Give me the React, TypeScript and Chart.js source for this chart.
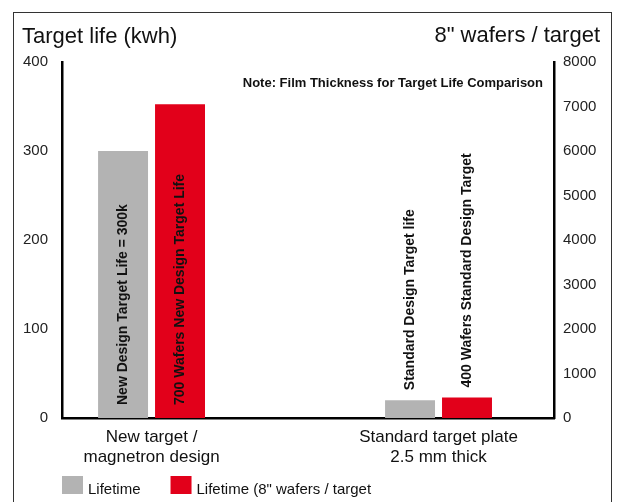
import React, { useEffect, useRef } from "react";
import { Chart, registerables } from "chart.js";

Chart.register(...registerables);

// ---- data ----
const categories: string[][] = [
  ["New target /", "magnetron design"],
  ["Standard target plate", "2.5 mm thick"],
];
const lifetimeKwh = [300, 20];
const wafersPerTarget = [7050, 460];
const lifetimeNotes = ["New Design Target Life = 300k", "Standard Design Target life"];
const wafersNotes = ["700 Wafers New Design Target Life", "400 Wafers Standard Design Target"];
const seriesNames = ["Lifetime", 'Lifetime (8" wafers / target'];
const leftTitle = "Target life (kwh)";
const rightTitle = '8" wafers / target';
const noteText = "Note: Film Thickness for Target Life Comparison";
const leftTicks = [0, 100, 200, 300, 400];
const rightTicks = [0, 1000, 2000, 3000, 4000, 5000, 6000, 7000, 8000];

const FONT = "'Liberation Sans', Arial, sans-serif";
const GRAY = "#b3b3b3";
const RED = "#e2001a";
const INK = "#111111";

const decor = {
  id: "decor",
  afterDraw(chart: any) {
    const ctx = chart.ctx as CanvasRenderingContext2D;
    const { left, right } = chart.chartArea;
    ctx.save();
    // frame
    ctx.strokeStyle = "#333";
    ctx.lineWidth = 1;
    ctx.strokeRect(13.5, 12.5, 598, 600);
    // titles
    ctx.fillStyle = INK;
    ctx.font = `22px ${FONT}`;
    ctx.textBaseline = "alphabetic";
    ctx.textAlign = "left";
    ctx.fillText(leftTitle, 22, 43);
    ctx.textAlign = "right";
    ctx.fillText(rightTitle, 600, 42);
    // note
    ctx.font = `bold 13px ${FONT}`;
    ctx.fillText(noteText, right - 11, 87);
    // rotated labels in / above bars
    const notes = [lifetimeNotes, wafersNotes];
    ctx.font = `bold 14px ${FONT}`;
    ctx.textAlign = "left";
    ctx.textBaseline = "middle";
    chart.data.datasets.forEach((_ds: any, di: number) => {
      const meta = chart.getDatasetMeta(di);
      meta.data.forEach((el: any, i: number) => {
        const p = el.getProps(["x", "y", "base"], true);
        const start = p.base - p.y > 60 ? p.base - 13 : p.y - 10;
        ctx.save();
        ctx.translate(p.x, start);
        ctx.rotate(-Math.PI / 2);
        ctx.fillText(notes[di][i], 0, 0);
        ctx.restore();
      });
    });
    // legend
    ctx.font = `15px ${FONT}`;
    ctx.textAlign = "left";
    ctx.textBaseline = "alphabetic";
    let x = left;
    chart.data.datasets.forEach((ds: any) => {
      ctx.fillStyle = ds.backgroundColor;
      ctx.fillRect(x, 476, 21, 18);
      ctx.fillStyle = INK;
      ctx.fillText(ds.label, x + 26, 494);
      x += 26 + ctx.measureText(ds.label).width + 30;
    });
    ctx.restore();
  },
};

export default function App() {
  const ref = useRef<HTMLCanvasElement | null>(null);
  useEffect(() => {
    if (!ref.current) return;
    const chart = new Chart(ref.current, {
      type: "bar",
      data: {
        datasets: [
          {
            label: seriesNames[0],
            data: lifetimeKwh.map((v, i) => ({ x: i, y: v })),
            backgroundColor: GRAY,
            yAxisID: "y",
          },
          {
            label: seriesNames[1],
            data: wafersPerTarget.map((v, i) => ({ x: i, y: v })),
            backgroundColor: RED,
            yAxisID: "y1",
          },
        ],
      },
      options: {
        animation: false,
        responsive: false,
        layout: { padding: { top: 62, left: 0, right: 0, bottom: 0 } },
        datasets: { bar: { categoryPercentage: 0.397, barPercentage: 0.877 } },
        plugins: { legend: { display: false }, tooltip: { enabled: false } },
        scales: {
          x: {
            type: "linear",
            offset: false,
            min: -0.312,
            max: 1.4024,
            grid: { display: false, drawTicks: false },
            border: { display: true, color: "#000", width: 2.5 },
            afterBuildTicks: (scale: any) => {
              scale.ticks = categories.map((_c, i) => ({ value: i }));
            },
            afterFit: (scale: any) => {
              scale.height = 84;
            },
            ticks: {
              padding: 10,
              color: INK,
              font: { family: FONT, size: 17, lineHeight: 1.15 },
              callback: (v: any) => categories[Math.round(Number(v))] ?? "",
            },
          },
          y: {
            position: "left",
            min: leftTicks[0],
            max: leftTicks[leftTicks.length - 1],
            afterBuildTicks: (scale: any) => {
              scale.ticks = leftTicks.map((v) => ({ value: v }));
            },
            afterFit: (scale: any) => {
              scale.width = 62;
            },
            grid: { display: false, drawTicks: false },
            border: { display: true, color: "#000", width: 2.5 },
            ticks: {
              padding: 14,
              color: "#222",
              font: { family: FONT, size: 15 },
              callback: (v: any) => String(v),
            },
          },
          y1: {
            position: "right",
            min: rightTicks[0],
            max: rightTicks[rightTicks.length - 1],
            afterBuildTicks: (scale: any) => {
              scale.ticks = rightTicks.map((v) => ({ value: v }));
            },
            afterFit: (scale: any) => {
              scale.width = 63;
            },
            grid: { display: false, drawTicks: false },
            border: { display: true, color: "#000", width: 2.5 },
            ticks: {
              padding: 9,
              color: "#222",
              font: { family: FONT, size: 15 },
              callback: (v: any) => String(v),
            },
          },
        },
      } as any,
      plugins: [decor],
    });
    return () => chart.destroy();
  }, []);
  return (
    <div style={{ position: "fixed", left: 0, top: 0, width: 617, height: 502, background: "#fff" }}>
      <canvas ref={ref} width={617} height={502} style={{ display: "block" }} />
    </div>
  );
}
